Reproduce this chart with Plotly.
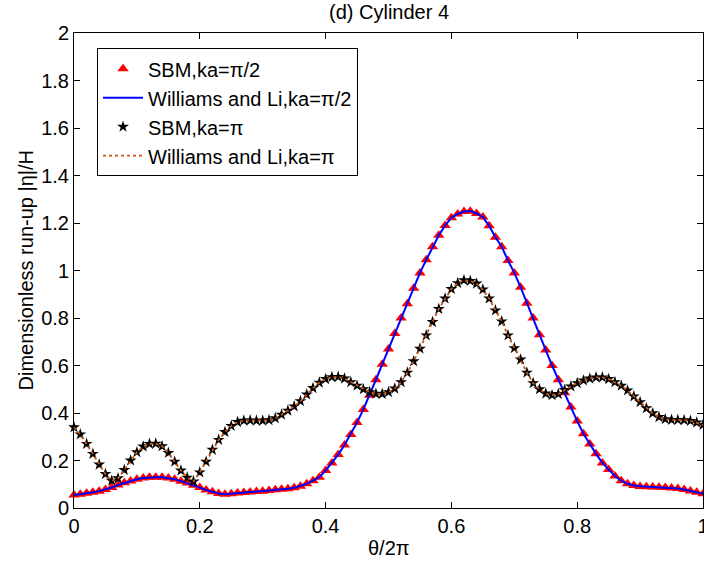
import numpy as np
import plotly.graph_objects as go

# theta / 2pi sample positions
theta = [round(i * 0.01, 2) for i in range(101)]

# ka = pi/2 : SBM (red triangles) and Williams & Li (blue line)
sbm_half = [
    0.055, 0.058, 0.062, 0.066, 0.071, 0.078, 0.086, 0.097, 0.106, 0.114,
    0.121, 0.126, 0.129, 0.130, 0.129, 0.126, 0.121, 0.113, 0.105, 0.096,
    0.086, 0.076, 0.068, 0.061, 0.058, 0.060, 0.063, 0.065, 0.067, 0.069,
    0.071, 0.074, 0.077, 0.079, 0.081, 0.085, 0.092, 0.102, 0.115, 0.130,
    0.158, 0.190, 0.225, 0.265, 0.310, 0.360, 0.415, 0.475, 0.540, 0.605,
    0.670, 0.735, 0.800, 0.860, 0.925, 0.990, 1.045, 1.100, 1.148, 1.190,
    1.222, 1.238, 1.248, 1.250, 1.240, 1.225, 1.188, 1.140, 1.100, 1.042,
    0.990, 0.930, 0.862, 0.800, 0.730, 0.665, 0.600, 0.540, 0.485, 0.425,
    0.366, 0.313, 0.270, 0.228, 0.190, 0.162, 0.135, 0.115, 0.102, 0.095,
    0.091, 0.089, 0.088, 0.087, 0.086, 0.084, 0.082, 0.078, 0.072, 0.066,
    0.060,
]
wl_half = list(sbm_half)

# ka = pi : SBM (black stars) and Williams & Li (dotted line)
sbm_pi = [
    0.340, 0.310, 0.270, 0.228, 0.183, 0.143, 0.115, 0.125, 0.160, 0.200,
    0.235, 0.259, 0.270, 0.271, 0.260, 0.232, 0.195, 0.158, 0.128, 0.112,
    0.150, 0.195, 0.245, 0.287, 0.320, 0.346, 0.362, 0.368, 0.369, 0.368,
    0.368, 0.370, 0.378, 0.393, 0.410, 0.428, 0.450, 0.478, 0.505, 0.528,
    0.543, 0.551, 0.552, 0.545, 0.530, 0.515, 0.500, 0.488, 0.481, 0.480,
    0.488, 0.503, 0.530, 0.570, 0.618, 0.671, 0.727, 0.783, 0.838, 0.882,
    0.922, 0.947, 0.959, 0.956, 0.945, 0.920, 0.882, 0.832, 0.786, 0.727,
    0.673, 0.625, 0.570, 0.526, 0.500, 0.482, 0.475, 0.480, 0.497, 0.512,
    0.526, 0.537, 0.545, 0.550, 0.550, 0.543, 0.530, 0.515, 0.495, 0.470,
    0.446, 0.420, 0.399, 0.383, 0.374, 0.371, 0.371, 0.370, 0.367, 0.360,
    0.350,
]
wl_pi = list(sbm_pi)

x_ticks = [0, 0.2, 0.4, 0.6, 0.8, 1]
x_tick_text = ["0", "0.2", "0.4", "0.6", "0.8", "1"]
y_ticks = [0, 0.2, 0.4, 0.6, 0.8, 1, 1.2, 1.4, 1.6, 1.8, 2]
y_tick_text = ["0", "0.2", "0.4", "0.6", "0.8", "1", "1.2", "1.4", "1.6", "1.8", "2"]

FONT = "Liberation Sans, Arial, sans-serif"
FS = 20

fig = go.Figure()
fig.add_trace(go.Scatter(
    x=theta, y=sbm_half, mode="markers", name="SBM,ka=π/2",
    marker=dict(symbol="triangle-up", color="#FF0000", size=10, line=dict(width=0)),
    cliponaxis=False,
))
fig.add_trace(go.Scatter(
    x=theta, y=wl_half, mode="lines", name="Williams and Li,ka=π/2",
    line=dict(color="#0000FF", width=2),
))
fig.add_trace(go.Scatter(
    x=theta, y=sbm_pi, mode="markers", name="SBM,ka=π",
    marker=dict(symbol="star", color="#000000", size=9, line=dict(width=0)),
    cliponaxis=False,
))
fig.add_trace(go.Scatter(
    x=theta, y=wl_pi, mode="lines", name="Williams and Li,ka=π",
    line=dict(color="#CC5511", width=1.8, dash="dot"),
))

axis_common = dict(
    showgrid=False, zeroline=False, showline=True, linecolor="black", linewidth=1,
    mirror="ticks", ticks="inside", ticklen=6, tickcolor="black", tickwidth=1,
    tickfont=dict(family=FONT, size=FS, color="black"), automargin=False,
    ticklabeloverflow="allow",
)
fig.update_xaxes(range=[0, 1], tickmode="array", tickvals=x_ticks, ticktext=x_tick_text, **axis_common)
fig.update_yaxes(range=[0, 2], tickmode="array", tickvals=y_ticks, ticktext=y_tick_text, **axis_common)

fig.update_layout(
    width=704, height=565,
    margin=dict(l=74, r=1, t=33, b=57),
    paper_bgcolor="white", plot_bgcolor="white",
    font=dict(family=FONT, size=FS, color="black"),
    showlegend=True,
    legend=dict(
        x=0.0366, y=0.968, xanchor="left", yanchor="top",
        bgcolor="white", bordercolor="black", borderwidth=1,
        font=dict(family=FONT, size=FS, color="black"),
        itemwidth=40, tracegroupgap=0,
    ),
    annotations=[
        dict(text="(d) Cylinder 4", xref="paper", yref="paper", x=0.5, y=1,
             xanchor="center", yanchor="middle",
             yshift=21, showarrow=False, font=dict(family=FONT, size=FS)),
        dict(text="θ/2π", xref="paper", yref="paper", x=0.5, y=0,
             xanchor="center", yanchor="middle",
             yshift=-40, showarrow=False, font=dict(family=FONT, size=FS)),
        dict(text="Dimensionless run-up |η|/H", xref="paper", yref="paper",
             x=0, y=0.5, xanchor="center", yanchor="middle",
             xshift=-49, textangle=-90, showarrow=False,
             font=dict(family=FONT, size=FS)),
    ],
)

fig.write_html("out.html", config={"displayModeBar": False},
               post_script="document.body.style.margin='0';")
